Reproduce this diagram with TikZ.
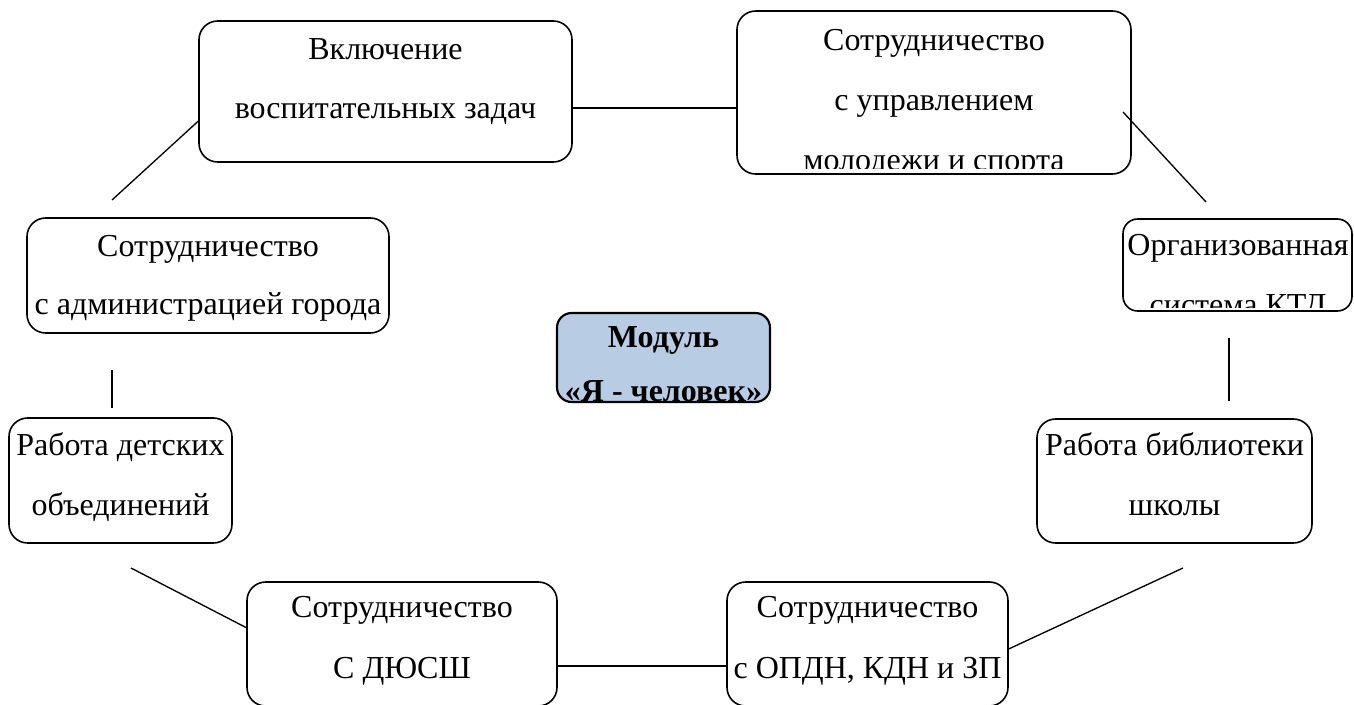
\documentclass[tikz,border=0pt]{standalone}
\usepackage{fontspec}
\setmainfont{Liberation Serif}
\definecolor{modfill}{RGB}{184,204,228}

\begin{document}
\begin{tikzpicture}[x=0.75pt,y=-0.75pt,
	box/.style={draw,line width=1.2pt,rounded corners=14pt,inner sep=0pt},
	txt/.style={anchor=base,inner sep=0pt,font=\fontsize{24}{28}\selectfont},
	link/.style={line width=1pt}]
	\useasboundingbox (0,0) rectangle (1354,704);
	% boxes
	\node[box,minimum width=279.75pt,minimum height=105.75pt] (vosp) at (385.5,91.5) {};
	\node[box,minimum width=295.5pt,minimum height=122.25pt] (molod) at (934,92.5) {};
	\node[box,minimum width=271.5pt,minimum height=86.25pt] (admin) at (208,275.5) {};
	\node[box,minimum width=167.25pt,minimum height=93.75pt] (detsk) at (120.5,480.5) {};
	\node[box,minimum width=232.5pt,minimum height=93pt] (dyussh) at (402,644) {};
	\node[box,minimum width=210.75pt,minimum height=93pt] (opdn) at (867.5,644) {};
	\node[box,minimum width=206.25pt,minimum height=93pt] (bibl) at (1174.5,481) {};
	\node[box,minimum width=171.75pt,minimum height=69pt,rounded corners=11pt] (ktd) at (1237.5,265) {};
	\node[box,fill=modfill,line width=1.6pt,minimum width=159.75pt,minimum height=66.75pt,rounded corners=11pt] (modul) at (663.5,357.5) {};

	\node[txt] (vosp1) at (385.5,59) {Включение};
	\node[txt] (vosp2) at (385.5,118) {воспитательных задач};
	\begin{scope}
		\clip (molod.north west) rectangle ([yshift=5pt]molod.south east);
		\node[txt] (molod1) at (934,50) {Сотрудничество};
		\node[txt] (molod2) at (934,110) {с управлением};
		\node[txt] (molod3) at (934,170) {молодежи и спорта};
	\end{scope}
	\node[txt] (admin1) at (208,256) {Сотрудничество};
	\node[txt] (admin2) at (208,314) {с администрацией города};
	\node[txt] (detsk1) at (120.5,455) {Работа детских};
	\node[txt] (detsk2) at (120.5,515) {объединений};
	\node[txt] (dyussh1) at (402,617) {Сотрудничество};
	\node[txt] (dyussh2) at (402,678) {С ДЮСШ};
	\node[txt] (opdn1) at (867.5,617) {Сотрудничество};
	\node[txt] (opdn2) at (867.5,678) {с ОПДН, КДН и ЗП};
	\node[txt] (bibl1) at (1174.5,455) {Работа библиотеки};
	\node[txt] (bibl2) at (1174.5,515) {школы};
	\begin{scope}
		\clip (ktd.north west) rectangle ([yshift=3pt]ktd.south east);
		\node[txt] (ktd1) at (1238,255) {Организованная};
		\node[txt] (ktd2) at (1238,315) {система КТД};
	\end{scope}
	\begin{scope}
		\clip (modul.north west) rectangle ([yshift=2.25pt]modul.south east);
		\node[txt,font=\fontsize{24}{28}\selectfont\bfseries] (modul1) at (663.5,347) {Модуль};
		\node[txt,font=\fontsize{24}{28}\selectfont\bfseries] (modul2) at (663.5,401) {«Я - человек»};
	\end{scope}

	% links
	\coordinate (c1) at (112,200);
	\coordinate (c3a) at (1123,112);
	\coordinate (c3b) at (1206,202);
	\coordinate (c4a) at (1229,338);
	\coordinate (c4b) at (1229,401);
	\coordinate (c5) at (1183,568);
	\coordinate (c7) at (131,568);
	\coordinate (c8a) at (112,370);
	\coordinate (c8b) at (112,408);
	\draw[link] (c1) -- (vosp.189);
	\draw[link] (vosp.-5) -- (vosp.-5 -| molod.west);
	\draw[link] (c3a) -- (c3b);
	\draw[link] (c4a) -- (c4b);
	\draw[link] (c5) -- (opdn.-2.5);
	\draw[link] (dyussh.-8.8) -- (dyussh.-8.8 -| opdn.west);
	\draw[link] (c7) -- (dyussh.174.1);
	\draw[link] (c8a) -- (c8b);
\end{tikzpicture}
\end{document}
